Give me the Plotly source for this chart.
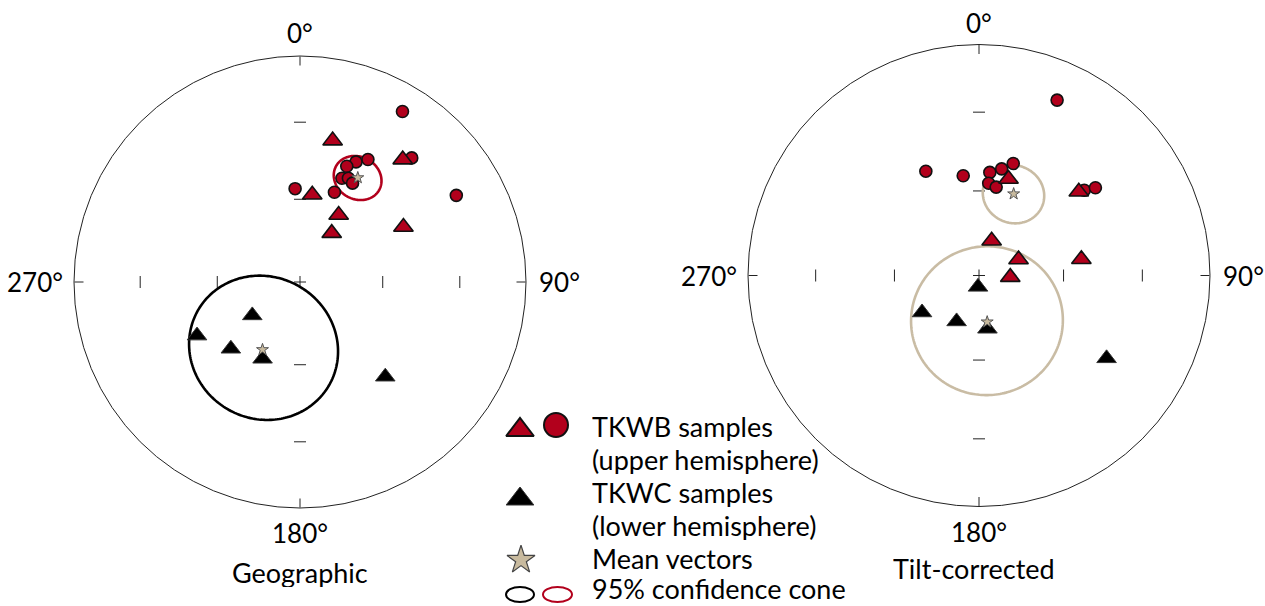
import numpy as np
import plotly.graph_objects as go

# ---------------- data (declination / inclination in degrees) ----------------
# negative inclination = upper hemisphere (TKWB), positive = lower hemisphere (TKWC)
geo_tkwb_circle_dec = [31, 29, 25, 22, 22, 25, 28, 42, 357, 21, 61]
geo_tkwb_circle_inc = [-13, -38, -41, -44, -49, -48, -49, -27, -56, -55, -22]
geo_tkwb_tri_dec = [13, 40, 8, 30, 33, 62]
geo_tkwb_tri_inc = [-36, -30, -58, -62, -69, -47]
geo_tkwc_tri_dec = [235, 242.5, 226, 206, 138]
geo_tkwc_tri_inc = [69, 47.4, 55, 59, 43]
geo_mean_dec = [29, 209]
geo_mean_inc = [-46.2, 62]
geo_a95 = [8.2, 26.5]

tc_tkwb_circle_dec = [24, 333, 351, 6, 12, 17, 6, 11, 51, 53]
tc_tkwb_circle_inc = [-18, -48, -54, -53, -51, -48, -57, -58, -41, -37]
tc_tkwb_tri_dec = [17, 50, 20, 68, 93, 81]
tc_tkwb_tri_inc = [-54, -43, -77, -75, -79, -53]
tc_tkwc_tri_dec = [185, 237, 206, 171, 123]
tc_tkwc_tri_inc = [86, 66, 72, 71, 34.5]
tc_mean_dec = [23, 170]
tc_mean_inc = [-58.5, 73.4]
tc_a95 = [10.5, 26.6]

tick_labels = ["0°", "90°", "180°", "270°"]
panel_titles = ["Geographic", "Tilt-corrected"]
legend_texts = ["TKWB samples", "(upper hemisphere)", "TKWC samples",
                "(lower hemisphere)", "Mean vectors", "95% confidence cone"]

# ---------------- styling ----------------
W, H = 1265, 606
RED = "#B2001C"
TAN = "#C9BCA4"
STAR_FILL = "#C8BA9E"
FONT = "Lato"

L_C, L_R = (300.0, 282.0), 226.0
R_C, R_R = (979.0, 275.5), 231.0


def px(x):
    return x / W


def py(y):
    return 1 - y / H


def ea_r(inc):
    inc = np.abs(np.asarray(inc, dtype=float))
    return np.sqrt(2) * np.sin(np.radians(90 - inc) / 2)


def cone(dec, inc, a95, n=241):
    D, I, a = np.radians([dec, abs(inc), a95])
    m = np.array([np.cos(I) * np.cos(D), np.cos(I) * np.sin(D), np.sin(I)])
    u = np.array([-np.sin(I) * np.cos(D), -np.sin(I) * np.sin(D), np.cos(I)])
    v = np.cross(m, u)
    t = np.linspace(0, 2 * np.pi, n)
    P = np.cos(a) * m[:, None] + np.sin(a) * (np.cos(t) * u[:, None] + np.sin(t) * v[:, None])
    dd = np.degrees(np.arctan2(P[1], P[0])) % 360
    ii = np.degrees(np.arcsin(np.clip(P[2], -1, 1)))
    return ea_r(ii), dd


fig = go.Figure()


def tick_trace(R, sub):
    h = 6.0 / R
    rs, ts = [], []
    for r0 in [float(ea_r(60)), float(ea_r(30))]:
        for th in [0, 90, 180, 270]:
            rr = float(np.hypot(r0, h))
            dt = float(np.degrees(np.arctan2(h, r0)))
            rs += [rr, rr, None]
            ts += [th - dt, th + dt, None]
    rs += [h, h, None, h, h, None]
    ts += [0, 180, None, 90, 270, None]
    fig.add_trace(go.Scatterpolar(r=rs, theta=ts, mode="lines", subplot=sub,
                                  line=dict(color="#222", width=1), hoverinfo="skip"))


def pts(dec, inc, sub, symbol, size, fill, lw=1.6, lc="#111"):
    fig.add_trace(go.Scatterpolar(r=ea_r(inc), theta=dec, mode="markers", subplot=sub,
                                  marker=dict(symbol=symbol, size=size, color=fill,
                                              line=dict(width=lw, color=lc))))


def panel(sub, R, c_dec, c_inc, t_dec, t_inc, k_dec, k_inc, m_dec, m_inc, a95, cone_cols):
    tick_trace(R, sub)
    for d, i, a, col in zip(m_dec, m_inc, a95, cone_cols):
        rr, tt = cone(d, i, a)
        fig.add_trace(go.Scatterpolar(r=rr, theta=tt, mode="lines", subplot=sub,
                                      line=dict(color=col, width=2.6), hoverinfo="skip"))
    pts(k_dec, k_inc, sub, "triangle-up", 17, "black", 1, "#333")
    pts(c_dec, c_inc, sub, "circle", 12, RED)
    pts(t_dec, t_inc, sub, "triangle-up", 17, RED)
    pts(m_dec, m_inc, sub, "star", 9, STAR_FILL, 1, "#555")


panel("polar", L_R, geo_tkwb_circle_dec, geo_tkwb_circle_inc, geo_tkwb_tri_dec, geo_tkwb_tri_inc,
      geo_tkwc_tri_dec, geo_tkwc_tri_inc, geo_mean_dec, geo_mean_inc, geo_a95, [RED, "black"])
panel("polar2", R_R, tc_tkwb_circle_dec, tc_tkwb_circle_inc, tc_tkwb_tri_dec, tc_tkwb_tri_inc,
      tc_tkwc_tri_dec, tc_tkwc_tri_inc, tc_mean_dec, tc_mean_inc, tc_a95, [TAN, TAN])


def polar_layout(c, R):
    return dict(
        domain=dict(x=[px(c[0] - R), px(c[0] + R)], y=[py(c[1] + R), py(c[1] - R)]),
        bgcolor="white",
        radialaxis=dict(visible=False, range=[0, 1]),
        angularaxis=dict(rotation=90, direction="clockwise", showgrid=False,
                         showticklabels=False, ticks="inside", ticklen=9, tickwidth=1,
                         tickcolor="#222", tickmode="array", tickvals=[0, 90, 180, 270],
                         showline=True, linecolor="#222", linewidth=1),
    )


# ---------------- legend (decorative, pixel space axis) ----------------
leg_x = [520, 556, 520, 521]
leg_y = [430, 425, 499, 560]
leg_sym = ["triangle-up", "circle", "triangle-up", "star"]
leg_size = [24, 24, 24, 21]
leg_col = [RED, RED, "black", STAR_FILL]
leg_lc = ["#111", "#111", "#333", "#444"]
leg_lw = [2, 2, 1, 1.2]
for x, y, s, sz, c, lc, lw in zip(leg_x, leg_y, leg_sym, leg_size, leg_col, leg_lc, leg_lw):
    fig.add_trace(go.Scatter(x=[x], y=[y], mode="markers", xaxis="x", yaxis="y",
                             marker=dict(symbol=s, size=sz, color=c, line=dict(width=lw, color=lc)),
                             hoverinfo="skip"))

shapes = [
    dict(type="circle", xref="x", yref="y", x0=506, x1=534, y0=587, y1=602,
         line=dict(color="black", width=2)),
    dict(type="circle", xref="x", yref="y", x0=543, x1=572, y0=587, y1=602,
         line=dict(color=RED, width=2)),
]

annots = []


def txt(x, y, s, xanchor="center", size=27):
    annots.append(dict(x=px(x), y=py(y), xref="paper", yref="paper", text=s, showarrow=False,
                       xanchor=xanchor, yanchor="middle", height=size + 2, valign="middle",
                       font=dict(family=FONT, size=size, color="black")))


for c, R, top_off in [(L_C, L_R, 23), (R_C, R_R, 22)]:
    txt(c[0], c[1] - R - top_off, tick_labels[0], size=26)
    txt(c[0] + R + 11, c[1], tick_labels[1], "left", size=26)
    txt(c[0], c[1] + R + 25, tick_labels[2], size=26)
    txt(c[0] - R - 9, c[1], tick_labels[3], "right", size=26)
txt(L_C[0], 572, panel_titles[0])
txt(R_C[0] - 5, 568, panel_titles[1])

leg_rows = [426, 459, 492, 525, 558, 588]
for s, y in zip(legend_texts, leg_rows):
    txt(590, y, s, "left")

fig.update_layout(
    width=W, height=H, margin=dict(l=0, r=0, t=0, b=0),
    paper_bgcolor="white", plot_bgcolor="rgba(0,0,0,0)",
    showlegend=False,
    polar=polar_layout(L_C, L_R),
    polar2=polar_layout(R_C, R_R),
    xaxis=dict(domain=[0, 1], range=[0, W], visible=False, fixedrange=True),
    yaxis=dict(domain=[0, 1], range=[H, 0], visible=False, fixedrange=True),
    shapes=shapes,
    annotations=annots,
    font=dict(family=FONT),
)

fig.write_html("out.html")
